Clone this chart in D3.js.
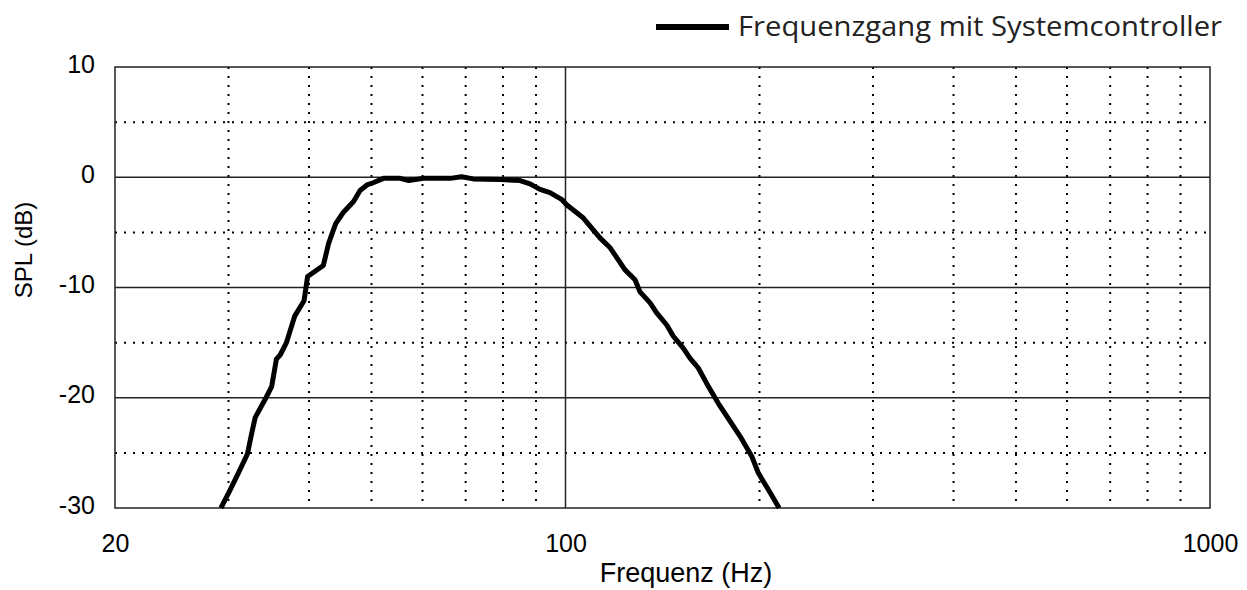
<!DOCTYPE html>
<html>
<head>
<meta charset="utf-8">
<script src="https://cdn.jsdelivr.net/npm/d3@7"></script>
<style>
  body { margin: 0; background: #fff; }
  svg { display: block; }
</style>
</head>
<body>
<div id="chart"></div>
<script>
// frequency response
var freqHz = [29.2, 30.1, 31.1, 32.1, 32.6, 33.0, 34.3, 35.0, 35.6, 36.1, 36.9, 38.0, 39.3, 39.8,
    42.1, 42.9, 44.0, 45.2, 46.9, 48.0, 49.2, 50.3, 52.2, 55.4, 57.1, 60.2, 66.2, 69.0, 71.9,
    79.2, 85.0, 88.1, 91.3, 94.6, 98.6, 100.4, 106.6, 113.1, 117.3, 123.7, 128.2, 130.5, 135.3,
    138.5, 143.6, 146.9, 152.3, 156.0, 160.7, 165.6, 172.6, 179.9, 186.6, 194.5, 199.1, 202.8,
    207.7, 214.5];
var splDb = [-30, -28.5, -26.8, -25.1, -23.2, -21.8, -20.0, -19.0, -16.5, -16.1, -15.0, -12.6, -11.2, -9.0,
    -8.0, -6.0, -4.2, -3.2, -2.2, -1.2, -0.7, -0.5, -0.1, -0.1, -0.3, -0.1, -0.1, 0.05, -0.15,
    -0.2, -0.3, -0.6, -1.1, -1.4, -2.0, -2.5, -3.7, -5.5, -6.4, -8.4, -9.3, -10.4, -11.4,
    -12.3, -13.4, -14.4, -15.5, -16.4, -17.3, -18.7, -20.5, -22.1, -23.5, -25.3, -26.8, -27.6,
    -28.6, -30];

var xTickLabels = [20, 100, 1000];
var xMajorGrid = [100];
var xMinorGrid = [30, 40, 50, 60, 70, 80, 90, 200, 300, 400, 500, 600, 700, 800, 900];
var yTicks = [10, 0, -10, -20, -30];
var yMajorGrid = [0, -10, -20];
var yMinorGrid = [5, -5, -15, -25];
var seriesName = "Frequenzgang mit Systemcontroller";

var W = 1247, H = 590;
var margin = {top: 67, right: 37, bottom: 82, left: 115};
var width = W - margin.left - margin.right;
var height = H - margin.top - margin.bottom;

var svg = d3.select("#chart").append("svg")
    .attr("width", W)
    .attr("height", H);

var g = svg.append("g")
    .attr("transform", "translate(" + margin.left + "," + margin.top + ")");

var x = d3.scaleLog().domain([20, 1000]).range([0, width]);
var y = d3.scaleLinear().domain([-30, 10]).range([height, 0]);

// grid, dotted first
g.selectAll(".vminor").data(xMinorGrid).enter().append("line")
    .attr("x1", function (d) { return x(d); })
    .attr("x2", function (d) { return x(d); })
    .attr("y1", 0).attr("y2", height)
    .style("stroke", "#000").style("stroke-width", 2)
    .style("stroke-dasharray", "2,7");

g.selectAll(".hminor").data(yMinorGrid).enter().append("line")
    .attr("x1", 0).attr("x2", width)
    .attr("y1", function (d) { return y(d); })
    .attr("y2", function (d) { return y(d); })
    .style("stroke", "#000").style("stroke-width", 2)
    .style("stroke-dasharray", "2,7");

g.selectAll(".vmajor").data(xMajorGrid).enter().append("line")
    .attr("x1", function (d) { return x(d); })
    .attr("x2", function (d) { return x(d); })
    .attr("y1", 0).attr("y2", height)
    .style("stroke", "#222").style("stroke-width", 1.5);

g.selectAll(".hmajor").data(yMajorGrid).enter().append("line")
    .attr("x1", 0).attr("x2", width)
    .attr("y1", function (d) { return y(d); })
    .attr("y2", function (d) { return y(d); })
    .style("stroke", "#222").style("stroke-width", 1.5);

// frame
g.append("rect")
    .attr("x", 0).attr("y", 0)
    .attr("width", width).attr("height", height)
    .style("fill", "none").style("stroke", "#222").style("stroke-width", 1.5);

// axes
var xAxis = g.append("g")
    .attr("transform", "translate(0," + height + ")")
    .call(d3.axisBottom(x).tickValues(xTickLabels).tickSize(0).tickPadding(26)
        .tickFormat(function (d) { return String(d); }));
xAxis.select(".domain").remove();

var yAxis = g.append("g")
    .call(d3.axisLeft(y).tickValues(yTicks).tickSize(0).tickPadding(20)
        .tickFormat(function (d) { return String(d); }));
yAxis.select(".domain").remove();
yAxis.selectAll("text").attr("dy", "0.2em");

svg.selectAll(".tick text")
    .style("font-family", "'Liberation Sans', Arial, sans-serif")
    .style("font-size", "25px")
    .style("fill", "#000");

// axis titles
svg.append("text")
    .attr("x", 686)
    .attr("y", 582)
    .attr("text-anchor", "middle")
    .style("font-family", "'Liberation Sans', Arial, sans-serif")
    .style("font-size", "27px")
    .text("Frequenz (Hz)");

svg.append("text")
    .attr("transform", "translate(32,250) rotate(-90)")
    .attr("text-anchor", "middle")
    .style("font-family", "'Liberation Sans', Arial, sans-serif")
    .style("font-size", "24px")
    .text("SPL (dB)");

// the response curve
var data = freqHz.map(function (f, i) { return [f, splDb[i]]; });
var line = d3.line()
    .x(function (d) { return x(d[0]); })
    .y(function (d) { return y(d[1]); });

g.append("path")
    .datum(data)
    .attr("d", line)
    .style("fill", "none")
    .style("stroke", "#000")
    .style("stroke-width", 5)
    .style("stroke-linejoin", "round");

// legend
var legend = svg.append("g").attr("transform", "translate(656,27)");
legend.append("line")
    .attr("x1", 0).attr("x2", 73)
    .attr("y1", 0).attr("y2", 0)
    .style("stroke", "#000").style("stroke-width", 6);
legend.append("text")
    .attr("x", 82).attr("y", 0).attr("dy", "0.35em")
    .attr("textLength", 484)
    .attr("lengthAdjust", "spacingAndGlyphs")
    .style("font-family", "'Open Sans', sans-serif")
    .style("font-size", "27px")
    .style("fill", "#222")
    .text(seriesName);
</script>
</body>
</html>
